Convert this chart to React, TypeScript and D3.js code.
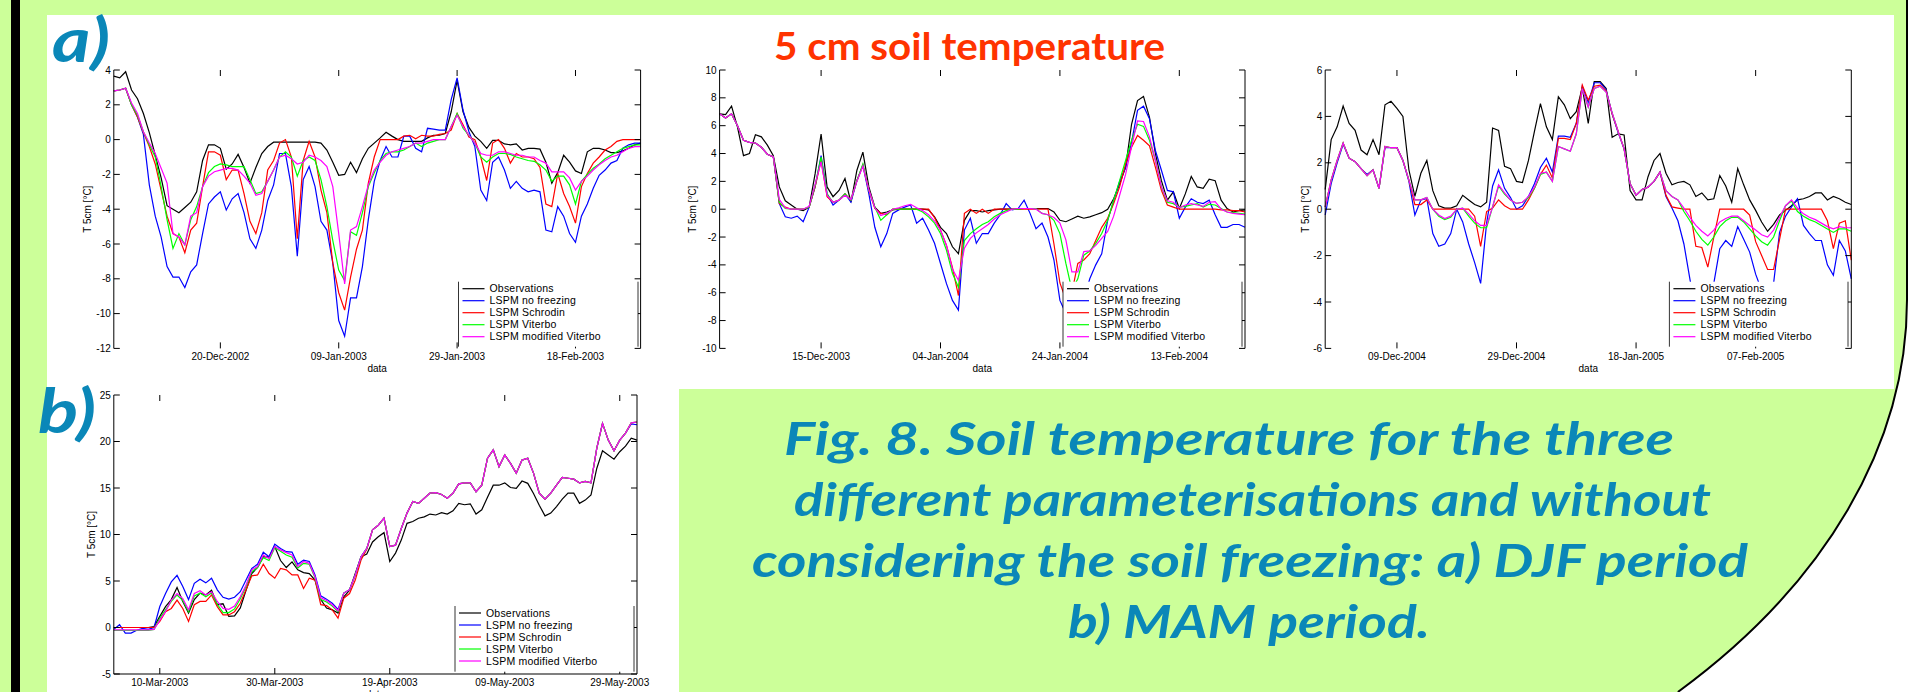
import React from "react";
import * as d3 from "d3";

const W = 1921;
const H = 692;

const seriesNames = [
  "Observations",
  "LSPM no freezing",
  "LSPM Schrodin",
  "LSPM Viterbo",
  "LSPM modified Viterbo",
];
const seriesColors = ["#000000", "#0000ff", "#ff0000", "#00ff00", "#ff00ff"];

// a) first winter, daily values from 2 Dec 2002
const a1Start = new Date(2002, 11, 2);
const a1End = new Date(2003, 2, 1);
const a1DateTicks = [new Date(2002, 11, 20), new Date(2003, 0, 9), new Date(2003, 0, 29), new Date(2003, 1, 18)];
const a1ValueTicks = [4, 2, 0, -2, -4, -6, -8, -10, -12];
const a1Obs = [
  3.65, 3.55, 3.9, 2.85, 2.35, 1.5, 0.4, -0.9, -2.2, -3.8,
  -4.0, -4.2, -3.9, -3.6, -3.0, -1.2, -0.3, -0.3, -0.5, -1.7,
  -1.4, -0.85, -1.6, -2.5, -1.6, -0.8, -0.4, -0.15, -0.15, -0.15,
  -0.15, -0.15, -0.15, -0.15, -0.15, -0.2, -0.6, -1.3, -2.05, -2.0,
  -1.3, -1.9, -1.1, -0.5, -0.2, 0.1, 0.42, 0.2, 0.0, -0.1,
  -0.1, -0.1, -0.1, 0.1, 0.25, 0.25, 0.35, 1.6, 3.4, 1.6,
  0.7, 0.2, -0.1, -0.5, -0.05, -0.05, -0.25, -0.3, -0.25, -0.6,
  -0.5, -0.5, -0.55, -1.3, -2.5, -1.9, -0.9, -1.3, -1.8, -1.95,
  -0.7, -0.5, -0.5, -0.6, -0.75, -0.75, -0.65, -0.5, -0.3, -0.2,
];
const a1NoFreeze = [
  2.8, 2.85, 2.95, 2.0, 1.3, 0.3, -2.6, -4.4, -5.6, -7.3,
  -7.9, -7.9, -8.5, -7.6, -7.2, -5.4, -3.7, -3.3, -3.0, -4.05,
  -3.4, -3.1, -4.2, -5.7, -6.25, -5.2, -3.5, -2.6, -0.8, -0.8,
  -2.7, -6.7, -2.3, -1.55, -2.7, -4.7, -5.2, -7.1, -10.4, -11.3,
  -9.1, -9.1, -7.3, -4.6, -2.4, -1.2, -0.4, -1.0, -1.0, 0.2,
  0.2, -0.5, -0.7, 0.65, 0.6, 0.55, 0.55, 2.3, 3.55, 1.7,
  0.45, -0.4, -2.9, -3.5, -1.3, -1.0, -1.75, -2.8, -2.4, -2.8,
  -3.0, -2.9, -3.0, -5.2, -5.3, -3.85, -4.4, -5.4, -5.9, -4.4,
  -3.7, -2.8, -2.05, -1.75, -1.35, -1.2, -0.5, -0.3, -0.2, -0.2,
];
const a1Schrodin = [
  2.8, 2.85, 2.95, 2.0, 1.3, 0.4, -0.4, -1.4, -2.9, -4.4,
  -5.4, -5.6, -6.5, -5.2, -4.8, -2.7, -0.7, -0.7, -0.9, -2.3,
  -1.75, -1.75, -3.1, -4.7, -5.4, -4.2, -1.75, -1.2, -0.2, 0.0,
  -1.0, -5.7, -1.2, -0.1, -1.0, -2.9, -4.2, -7.1, -8.8, -9.8,
  -7.9, -6.3, -5.2, -2.5, -1.0, 0.0, 0.0, 0.0, 0.0, 0.2,
  0.25, 0.05, 0.25, 0.2, 0.2, 0.3, 0.35, 0.55, 1.5, 0.85,
  0.15, 0.0, -1.0, -2.35, -0.2, 0.0, -0.5, -1.35, -0.8, -1.0,
  -1.0, -1.1, -1.6, -3.7, -3.85, -1.95, -3.1, -3.85, -4.8, -2.7,
  -1.95, -1.35, -1.0, -0.6, -0.4, -0.1, 0.0, 0.0, 0.0, 0.0,
];
const a1Viterbo = [
  2.8, 2.85, 2.95, 2.0, 1.4, 0.45, -0.3, -1.0, -2.7, -4.6,
  -6.25, -5.4, -6.05, -4.6, -3.85, -2.7, -1.9, -1.55, -1.4, -1.45,
  -1.55, -1.55, -1.55, -2.3, -3.1, -3.0, -2.4, -1.75, -1.0, -0.7,
  -1.0, -2.1, -1.2, -1.0, -1.2, -2.3, -3.85, -5.8, -7.5, -8.1,
  -5.3, -5.5, -4.2, -2.7, -1.9, -1.2, -0.8, -0.7, -0.7, -0.6,
  -0.4, -0.2, -0.4, -0.2, -0.1, 0.0, 0.0, 0.75, 1.5, 0.65,
  0.25, -0.2, -1.0, -1.3, -1.0, -0.8, -0.8, -0.85, -1.0, -1.1,
  -1.2, -1.25, -1.45, -1.75, -2.4, -2.1, -2.1, -2.6, -3.7, -2.4,
  -2.0, -1.65, -1.4, -1.1, -0.9, -0.7, -0.5, -0.4, -0.3, -0.3,
];
const a1ModViterbo = [
  2.8, 2.85, 2.95, 2.1, 1.5, 0.45, -0.2, -0.8, -1.65, -2.5,
  -5.4, -5.6, -6.05, -4.4, -4.2, -2.7, -2.1, -1.85, -1.75, -1.65,
  -1.65, -1.75, -2.1, -2.5, -3.2, -3.1, -2.4, -1.75, -1.0, -0.9,
  -1.1, -1.4, -1.3, -0.9, -1.0, -1.2, -1.55, -2.7, -5.4, -8.3,
  -5.2, -5.0, -3.85, -2.6, -1.75, -1.3, -0.9, -0.7, -0.6, -0.5,
  -0.4, -0.2, -0.2, -0.1, 0.0, 0.0, 0.0, 0.75, 1.4, 0.75,
  0.25, -0.2, -0.8, -0.9, -0.9, -0.7, -0.7, -0.8, -0.9, -0.9,
  -1.0, -1.0, -1.2, -1.35, -1.85, -1.85, -1.85, -2.2, -2.9, -2.4,
  -2.1, -1.75, -1.45, -1.2, -1.0, -0.9, -0.7, -0.5, -0.4, -0.4,
];

// a) second winter, from 28 Nov 2003
const a2Start = new Date(2003, 10, 28);
const a2End = new Date(2004, 1, 24);
const a2DateTicks = [new Date(2003, 11, 15), new Date(2004, 0, 4), new Date(2004, 0, 24), new Date(2004, 1, 13)];
const a2ValueTicks = [10, 8, 6, 4, 2, 0, -2, -4, -6, -8, -10];
const a2Obs = [
  6.85, 6.8, 7.4, 5.9, 3.85, 4.0, 5.35, 5.2, 4.6, 3.85,
  1.6, 0.6, 0.3, 0.0, -0.1, 0.15, 2.55, 5.4, 1.6, 0.9,
  1.35, 2.2, 0.5, 2.8, 4.1, 1.6, 0.15, -0.3, -0.2, -0.05,
  0.0, 0.0, 0.0, 0.0, 0.0, -0.05, -0.55, -1.3, -1.75, -2.7,
  -3.2, -0.8, -0.1, -0.1, -0.2, -0.1, -0.05, 0.0, 0.0, 0.0,
  0.0, 0.05, 0.05, 0.05, 0.05, 0.05, -0.2, -0.8, -0.9, -0.7,
  -0.5, -0.65, -0.55, -0.4, -0.25, 0.0, 0.75, 1.8, 3.0, 6.1,
  7.8, 8.1, 6.6, 4.0, 2.05, 0.65, 1.25, 0.05, 1.1, 2.35,
  1.6, 1.5, 2.15, 2.05, 0.65, 0.05, -0.2, -0.1, -0.05,
];
const a2NoFreeze = [
  6.85, 6.55, 6.85, 6.0, 4.95, 4.8, 4.75, 4.45, 3.95, 3.75,
  0.4, -0.55, -0.65, -0.5, -0.9, 0.15, 1.6, 3.85, 1.1, 0.3,
  0.65, 1.1, 0.5, 2.05, 3.15, 1.1, -1.3, -2.7, -1.75, -0.3,
  -0.05, 0.15, 0.3, -1.0, -0.65, -1.5, -2.45, -3.9, -5.35, -6.55,
  -7.25, -1.5, -0.65, -2.45, -1.75, -1.75, -1.0, -0.4, 0.4, -0.05,
  0.05, 0.65, -0.3, -1.4, -1.0, -2.0, -3.65, -6.55, -7.5, -8.0,
  -7.5, -6.5, -5.0, -4.0, -3.2, -0.8, 0.6, 2.0, 3.0, 4.8,
  7.1, 7.4, 6.5, 4.2, 2.8, 1.35, 1.25, -0.65, 0.15, 0.75,
  0.5, 0.4, 0.65, -0.4, -1.3, -1.3, -1.1, -1.1, -1.3,
];
const a2Schrodin = [
  6.85, 6.55, 6.85, 6.0, 4.95, 4.8, 4.75, 4.45, 3.95, 3.75,
  0.4, 0.15, 0.0, 0.0, 0.0, 0.15, 1.6, 3.5, 0.9, 0.5,
  0.65, 1.1, 0.65, 2.05, 3.15, 1.35, 0.05, -0.3, -0.4, 0.0,
  0.0, 0.0, 0.0, 0.0, 0.0, 0.0, -0.6, -1.5, -2.6, -4.2,
  -6.2, -0.3, 0.0, -0.3, 0.0, -0.3, 0.0, 0.0, 0.0, 0.0,
  0.0, 0.0, 0.0, 0.0, 0.0, 0.0, -2.5, -5.3, -6.5, -6.0,
  -3.9, -3.65, -3.2, -2.25, -1.3, -0.65, 0.4, 1.6, 3.25, 4.45,
  5.3, 4.95, 4.55, 3.0, 1.35, 0.3, 0.15, 0.0, 0.0, 0.0,
  0.0, 0.0, 0.0, 0.0, -0.05, -0.05, -0.1, -0.1, -0.2,
];
const a2Viterbo = [
  6.85, 6.55, 6.85, 6.0, 4.95, 4.8, 4.75, 4.45, 3.95, 3.75,
  0.5, 0.05, 0.0, 0.0, 0.0, 0.15, 1.7, 3.75, 1.1, 0.5,
  0.65, 1.1, 0.65, 2.05, 3.25, 1.35, 0.15, -0.8, -0.4, 0.0,
  0.0, 0.0, 0.0, 0.0, -0.2, -0.55, -1.0, -1.75, -2.95, -4.6,
  -5.6, -2.25, -1.75, -1.4, -1.1, -0.9, -0.55, -0.3, -0.1, 0.0,
  0.0, 0.05, 0.05, 0.05, -0.3, -0.4, -0.8, -1.75, -3.9, -5.8,
  -5.0, -3.3, -3.0, -2.45, -1.75, -0.8, 0.65, 2.05, 3.5, 4.95,
  6.1, 5.95, 4.95, 3.5, 1.6, 0.5, 0.4, 0.15, 0.2, 0.3,
  0.4, 0.15, 0.35, 0.3, 0.05, -0.2, -0.25, -0.3, -0.35,
];
const a2ModViterbo = [
  6.85, 6.55, 6.85, 6.0, 4.95, 4.8, 4.75, 4.45, 3.95, 3.75,
  0.7, 0.1, 0.0, 0.0, 0.0, 0.2, 1.8, 3.4, 1.0, 0.5,
  0.65, 1.0, 0.7, 2.0, 3.1, 1.4, 0.1, -0.45, -0.3, 0.0,
  0.1, 0.25, 0.35, 0.1, -0.1, -0.4, -0.85, -1.5, -2.6, -4.3,
  -5.1, -2.8, -2.1, -1.7, -1.4, -1.1, -0.7, -0.4, -0.2, 0.0,
  0.05, 0.05, 0.05, 0.0, -0.3, -0.4, -0.6, -1.0, -2.2, -4.5,
  -4.5, -3.05, -3.0, -2.6, -2.1, -1.6, -0.5, 1.0, 2.5, 4.5,
  6.35, 6.3, 5.2, 3.5, 1.6, 0.6, 0.5, 0.1, 0.3, 0.4,
  0.3, 0.2, 0.5, 0.55, 0.0, -0.2, -0.3, -0.35, -0.4,
];

// a) third winter, from 27 Nov 2004
const a3Start = new Date(2004, 10, 27);
const a3End = new Date(2005, 1, 23);
const a3DateTicks = [new Date(2004, 11, 9), new Date(2004, 11, 29), new Date(2005, 0, 18), new Date(2005, 1, 7)];
const a3ValueTicks = [6, 4, 2, 0, -2, -4, -6];
const a3Obs = [
  0.85, 3.0, 3.55, 4.45, 3.7, 3.4, 2.55, 2.35, 3.0, 2.35,
  4.5, 4.65, 4.35, 4.0, 1.7, 0.55, 1.55, 2.1, 0.8, 0.15,
  0.05, 0.05, 0.15, 0.6, 0.4, 0.2, 0.1, 0.3, 3.5, 3.4,
  1.85, 1.75, 1.2, 1.15, 2.1, 3.35, 4.55, 3.55, 3.0, 4.85,
  4.5, 3.9, 4.2, 5.25, 3.7, 5.5, 5.5, 5.2, 3.1, 3.25,
  3.2, 0.8, 0.4, 0.4, 1.4, 2.1, 2.4, 1.55, 1.05, 1.15,
  1.2, 1.05, 0.55, 0.7, 0.4, 0.45, 1.45, 1.0, 0.3, 1.75,
  1.05, 0.4, -0.05, -0.55, -0.95, -0.65, -0.25, -0.05, 0.15, 0.4,
  0.45, 0.55, 0.7, 0.7, 0.4, 0.55, 0.45, 0.3, 0.2,
];
const a3NoFreeze = [
  -0.25, 1.1, 2.0, 2.8, 2.2, 2.05, 1.75, 1.5, 1.7, 0.9,
  2.65, 2.65, 2.65, 2.1, 1.2, -0.25, 0.4, 0.45, -1.05, -1.6,
  -1.5, -1.05, 0.0, -0.55, -1.5, -2.3, -3.2, -0.6, 1.0, 1.7,
  0.9, 0.5, 0.0, 0.15, 0.55, 1.1, 1.8, 2.2, 1.6, 3.15,
  3.15, 3.1, 3.7, 5.3, 4.6, 5.45, 5.45, 5.15, 4.1, 3.3,
  2.6, 1.1, 0.6, 0.85, 0.95, 1.2, 1.6, 0.55, 0.05, -0.5,
  -1.5, -3.0, -4.5, -5.5, -4.5, -3.2, -1.7, -1.35, -1.6, -0.75,
  -1.3, -1.85, -2.8, -3.5, -3.8, -3.2, -1.0, -0.3, 0.1, 0.45,
  -0.7, -1.05, -1.35, -1.35, -2.4, -2.85, -1.35, -1.8, -3.0,
];
const a3Schrodin = [
  0.1, 1.25, 2.1, 2.85, 2.2, 2.05, 1.75, 1.45, 1.7, 0.9,
  2.7, 2.65, 2.65, 2.1, 1.25, 0.2, 0.2, 0.4, 0.0, 0.0,
  0.0, 0.0, 0.0, 0.0, 0.0, -0.3, -1.6, -0.1, 0.05, 0.4,
  0.15, 0.0, 0.0, 0.0, 0.4, 0.9, 1.5, 1.9, 1.35, 3.05,
  3.05, 3.0, 3.7, 5.35, 4.7, 5.3, 5.35, 5.1, 4.1, 3.35,
  2.6, 1.1, 0.6, 0.85, 0.95, 1.2, 1.6, 0.6, 0.1, 0.05,
  0.0, 0.0, -1.6, -1.65, -2.5, -1.2, 0.0, 0.0, 0.0, 0.0,
  0.0, -0.25, -1.4, -2.0, -2.6, -2.6, -1.3, 0.0, 0.0, 0.0,
  0.0, 0.0, 0.0, 0.0, -0.5, -1.7, -0.6, -0.5, -2.2,
];
const a3Viterbo = [
  0.1, 1.25, 2.1, 2.85, 2.2, 2.05, 1.75, 1.45, 1.7, 0.9,
  2.7, 2.65, 2.65, 2.1, 1.25, 0.4, 0.4, 0.5, 0.0, -0.3,
  -0.45, -0.35, 0.0, 0.05, -0.3, -0.6, -0.8, -0.8, 0.1, 1.0,
  0.65, 0.4, 0.25, 0.3, 0.5, 0.9, 1.5, 1.6, 1.2, 2.7,
  2.6, 2.5, 3.25, 5.2, 4.4, 5.2, 5.3, 5.05, 4.15, 3.35,
  2.6, 1.1, 0.6, 0.85, 0.95, 1.2, 1.6, 0.8, 0.55, 0.4,
  -0.1, -0.5, -0.95, -1.3, -1.55, -1.2, -0.75, -0.5, -0.35, -0.35,
  -0.55, -0.85, -1.15, -1.4, -1.55, -1.2, -0.5, 0.15, 0.35, -0.1,
  -0.3, -0.45, -0.55, -0.7, -0.85, -1.0, -0.85, -0.85, -0.95,
];
const a3ModViterbo = [
  0.1, 1.25, 2.1, 2.85, 2.2, 2.05, 1.75, 1.45, 1.7, 0.9,
  2.7, 2.65, 2.65, 2.1, 1.25, 0.4, 0.4, 0.5, 0.0, -0.25,
  -0.4, -0.3, 0.0, 0.05, -0.2, -0.5, -0.7, -0.7, 0.1, 1.05,
  0.7, 0.4, 0.25, 0.3, 0.55, 0.95, 1.55, 1.6, 1.2, 2.7,
  2.6, 2.5, 3.25, 5.2, 4.4, 5.2, 5.3, 5.05, 4.15, 3.35,
  2.6, 1.1, 0.6, 0.85, 0.95, 1.2, 1.6, 0.8, 0.55, 0.4,
  0.05, -0.35, -0.7, -0.95, -1.15, -0.9, -0.55, -0.4, -0.3, -0.3,
  -0.5, -0.7, -0.9, -1.1, -1.2, -0.9, -0.35, 0.15, 0.4, 0.05,
  -0.2, -0.35, -0.45, -0.6, -0.75, -0.85, -0.75, -0.8, -0.8,
];

// b) spring 2003, from 2 Mar 2003
const bStart = new Date(2003, 2, 2);
const bEnd = new Date(2003, 5, 1);
const bDateTicks = [new Date(2003, 2, 10), new Date(2003, 2, 30), new Date(2003, 3, 19), new Date(2003, 4, 9), new Date(2003, 4, 29)];
const bValueTicks = [25, 20, 15, 10, 5, 0, -5];
const bObs = [
  0, 0, 0, 0, 0, 0, 0, 0.1, 1.2, 2.25,
  3.0, 4.3, 2.8, 1.55, 3.0, 3.7, 3.5, 4.0, 2.45, 2.55,
  1.2, 1.25, 2.1, 4.0, 5.8, 6.45, 7.6, 7.6, 8.7, 7.2,
  6.45, 7.05, 6.2, 5.9, 5.8, 5.1, 3.0, 2.1, 1.9, 1.55,
  3.3, 4.0, 5.8, 7.6, 7.9, 9.2, 9.75, 10.2, 7.1, 8.0,
  9.4, 11.2, 11.4, 11.75, 11.9, 12.2, 12.1, 12.35, 12.2, 12.55,
  13.35, 13.2, 13.3, 12.2, 12.65, 14.0, 15.3, 15.3, 15.55, 15.05,
  14.95, 15.75, 15.5, 14.4, 13.15, 12.0, 12.3, 13.0, 13.8, 14.45,
  14.45, 13.35, 13.7, 14.25, 17.1, 19.0, 18.55, 18.1, 18.9, 19.5,
  20.35, 20.15,
];
const bNoFreeze = [
  -0.2, 0.3, -0.6, -0.6, -0.3, -0.1, -0.2, 0.0, 2.25, 3.65,
  4.9, 5.6, 4.4, 3.0, 4.75, 5.2, 4.8, 5.3, 4.05, 3.25,
  3.05, 3.25, 3.85, 5.1, 6.35, 6.8, 8.1, 7.6, 8.95, 8.5,
  8.15, 8.1, 6.8, 7.25, 7.1, 5.65, 3.4, 3.05, 2.6, 1.95,
  3.7, 4.05, 5.65, 7.6, 8.5, 10.5, 11.0, 11.75, 8.7, 8.85,
  10.65, 12.3, 13.55, 13.35, 13.9, 14.45, 14.5, 14.3, 13.9, 14.45,
  15.45, 15.55, 15.55, 14.6, 15.3, 18.2, 19.1, 17.3, 18.55, 17.65,
  16.6, 18.0, 18.2, 16.6, 14.45, 13.8, 14.45, 15.3, 16.15, 16.05,
  15.95, 15.55, 15.7, 15.55, 19.25, 21.95, 20.15, 19.0, 20.15, 20.9,
  21.9, 21.8,
];
const bSchrodin = [
  0, 0, 0, 0, 0, 0, 0, 0, 0.65, 1.7,
  2.05, 2.95, 2.05, 0.65, 2.45, 2.8, 2.8, 3.5, 2.25, 1.35,
  1.35, 1.7, 2.6, 4.05, 5.55, 5.65, 6.8, 5.8, 5.3, 6.35,
  6.2, 5.65, 5.65, 4.2, 5.3, 5.1, 2.45, 2.35, 1.9, 1.0,
  3.15, 3.65, 5.1, 7.25, 8.4, 10.5, 11.0, 11.75, 8.7, 8.85,
  10.65, 12.3, 13.55, 13.35, 13.9, 14.45, 14.5, 14.3, 13.9, 14.45,
  15.45, 15.55, 15.55, 14.6, 15.3, 18.2, 19.1, 17.3, 18.55, 17.65,
  16.6, 18.0, 18.2, 16.6, 14.45, 13.8, 14.45, 15.3, 16.15, 16.05,
  15.95, 15.55, 15.7, 15.55, 19.25, 21.95, 20.15, 19.0, 20.15, 20.9,
  22.0, 22.1,
];
const bViterbo = [
  -0.3, -0.3, -0.3, -0.3, -0.3, -0.3, -0.3, -0.2, 1.0, 1.9,
  2.8, 3.5, 2.9, 1.7, 3.4, 3.7, 3.3, 3.7, 2.5, 1.6,
  1.6, 2.0, 3.1, 4.4, 6.0, 6.45, 7.5, 7.2, 8.6, 8.2,
  7.8, 7.55, 6.4, 6.9, 6.8, 5.35, 3.0, 2.75, 2.3, 1.7,
  3.7, 4.05, 5.65, 7.6, 8.5, 10.5, 11.0, 11.75, 8.7, 8.85,
  10.65, 12.3, 13.55, 13.35, 13.9, 14.45, 14.5, 14.3, 13.9, 14.45,
  15.45, 15.55, 15.55, 14.6, 15.3, 18.2, 19.1, 17.3, 18.55, 17.65,
  16.6, 18.0, 18.2, 16.6, 14.45, 13.8, 14.45, 15.3, 16.15, 16.05,
  15.95, 15.55, 15.7, 15.55, 19.25, 21.95, 20.15, 19.0, 20.15, 20.9,
  22.0, 22.1,
];
const bModViterbo = [
  -0.25, -0.25, -0.25, -0.25, -0.25, -0.25, -0.25, -0.2, 0.8, 1.7,
  2.95, 3.65, 3.1, 1.9, 3.65, 3.95, 3.5, 3.85, 2.8, 2.05,
  1.95, 2.3, 3.3, 4.55, 6.2, 6.55, 7.8, 7.4, 8.7, 8.35,
  8.05, 7.8, 6.55, 7.1, 6.9, 5.45, 3.2, 2.9, 2.45, 1.8,
  3.7, 4.05, 5.65, 7.6, 8.5, 10.5, 11.0, 11.75, 8.7, 8.85,
  10.65, 12.3, 13.55, 13.35, 13.9, 14.45, 14.5, 14.3, 13.9, 14.45,
  15.45, 15.55, 15.55, 14.6, 15.3, 18.2, 19.1, 17.3, 18.55, 17.65,
  16.6, 18.0, 18.2, 16.6, 14.45, 13.8, 14.45, 15.3, 16.15, 16.05,
  15.95, 15.55, 15.7, 15.55, 19.25, 21.95, 20.15, 19.0, 20.15, 20.9,
  22.0, 22.1,
];

const chartTitle = "5 cm soil temperature";
const captionLines = [
  "Fig. 8. Soil temperature for the three",
  "different parameterisations and without",
  "considering the soil freezing: a) DJF period",
  "b) MAM period.",
];

const axisFont = '"Liberation Sans", Arial, Helvetica, sans-serif';
const posterFont = '"Comic Sans MS", Lato, "Open Sans", sans-serif';
const posterBlue = "#0a87b8";
const fmtDate = d3.timeFormat("%d-%b-%Y");

const Panel = ({ box, start, end, yDomain, valueTicks, dateTicks, series, legend, ylabelX, xlabelY, bottomLine }) => {
  const x = d3.scaleTime().domain([start, end]).range([box.left, box.right]);
  const y = d3.scaleLinear().domain(yDomain).range([box.bottom, box.top]);
  const line = d3
    .line<number>()
    .x((_, i) => x(d3.timeDay.offset(start, i)))
    .y((v) => y(v));
  const tick = 6;

  return (
    <g fontFamily={axisFont} fontSize={10} fill="#000">
      {/* curves, observations first, modified Viterbo on top */}
      {series.map((s, i) => (
        <path key={i} d={line(s)} fill="none" stroke={seriesColors[i]} strokeWidth={1.2} />
      ))}

      {/* box sides */}
      <line x1={box.left} x2={box.left} y1={box.top} y2={box.bottom} stroke="#000" strokeWidth={1} />
      <line x1={box.right} x2={box.right} y1={box.top} y2={box.bottom} stroke="#000" strokeWidth={1} />
      {bottomLine && (
        <line x1={box.left} x2={box.right} y1={box.bottom} y2={box.bottom} stroke="#000" strokeWidth={1.2} />
      )}

      {/* y axis */}
      {valueTicks.map((v) => (
        <g key={"y" + v}>
          <line x1={box.left} x2={box.left + tick} y1={y(v)} y2={y(v)} stroke="#000" />
          <line x1={box.right - tick} x2={box.right} y1={y(v)} y2={y(v)} stroke="#000" />
          <text x={box.left - 3} y={y(v)} dy="0.35em" textAnchor="end">
            {v}
          </text>
        </g>
      ))}

      {/* date axis */}
      {dateTicks.map((d) => (
        <g key={"x" + d.getTime()}>
          <line x1={x(d)} x2={x(d)} y1={box.top} y2={box.top + tick} stroke="#000" />
          <line x1={x(d)} x2={x(d)} y1={box.bottom - tick} y2={box.bottom} stroke="#000" />
          <text x={x(d)} y={box.bottom + 11.5} textAnchor="middle">
            {fmtDate(d)}
          </text>
        </g>
      ))}

      <text x={(box.left + box.right) / 2} y={xlabelY} textAnchor="middle">
        data
      </text>
      <text
        transform={`translate(${ylabelX},${(box.top + box.bottom) / 2}) rotate(-90)`}
        textAnchor="middle"
      >
        T  5cm [°C]
      </text>

      {/* legend */}
      <rect
        x={legend.left}
        y={legend.top}
        width={legend.right - legend.left}
        height={legend.bottom - legend.top}
        fill="#fff"
      />
      <line x1={legend.left} x2={legend.left} y1={legend.top} y2={legend.bottom} stroke="#000" strokeWidth={0.8} />
      <line x1={legend.right} x2={legend.right} y1={legend.top} y2={legend.bottom} stroke="#000" strokeWidth={0.8} />
      {seriesNames.map((name, i) => {
        const ly = legend.top + 7 + i * 12;
        return (
          <g key={name}>
            <line x1={legend.left + 4} x2={legend.left + 26} y1={ly} y2={ly} stroke={seriesColors[i]} strokeWidth={1.2} />
            <text x={legend.left + 31} y={ly} dy="0.35em" fontSize={10.5} letterSpacing={0.2}>
              {name}
            </text>
          </g>
        );
      })}
    </g>
  );
};

export default function App() {
  // right edge of the poster box: straight, then an elliptical sweep
  const cx = 1000, cy = 300, rx = 907, ry = 590;
  const edgeX = cx + rx;
  const bottomX = cx + rx * Math.sqrt(1 - ((H - cy) / ry) ** 2);
  const edge = `M${edgeX},0 L${edgeX},${cy} A${rx},${ry} 0 0 1 ${bottomX},${H}`;
  const outside = `M${edgeX},0 L${W},0 L${W},${H} L${bottomX},${H} A${rx},${ry} 0 0 0 ${edgeX},${cy} Z`;

  const aTop = 70;
  const aBottom = 348.4;
  const aLegend = { top: 281.7, bottom: 346.7 };

  return (
    <svg width={W} height={H} style={{ position: "absolute", left: 0, top: 0, display: "block" }}>
      <rect x={0} y={0} width={W} height={H} fill="#ccff99" />
      <path d={outside} fill="#fff" />
      <path d={edge} fill="none" stroke="#000" strokeWidth={2} />
      <rect x={11} y={0} width={9} height={H} fill="#000" />

      {/* white paper behind the plots */}
      <path d={`M47,15 L1894,15 L1894,389 L679,389 L679,${H} L47,${H} Z`} fill="#fff" />

      <text
        x={774}
        y={60}
        fontFamily={posterFont}
        fontWeight="bold"
        fontSize={38}
        fill="#ff3300"
        textLength={391}
        lengthAdjust="spacingAndGlyphs"
      >
        {chartTitle}
      </text>

      <Panel
        box={{ left: 113.8, right: 640.6, top: aTop, bottom: aBottom }}
        start={a1Start}
        end={a1End}
        yDomain={[-12, 4]}
        valueTicks={a1ValueTicks}
        dateTicks={a1DateTicks}
        series={[a1Obs, a1NoFreeze, a1Schrodin, a1Viterbo, a1ModViterbo]}
        legend={{ left: 458.5, right: 638, ...aLegend }}
        ylabelX={90.5}
        xlabelY={372}
        bottomLine={false}
      />
      <Panel
        box={{ left: 719.6, right: 1245, top: aTop, bottom: aBottom }}
        start={a2Start}
        end={a2End}
        yDomain={[-10, 10]}
        valueTicks={a2ValueTicks}
        dateTicks={a2DateTicks}
        series={[a2Obs, a2NoFreeze, a2Schrodin, a2Viterbo, a2ModViterbo]}
        legend={{ left: 1063, right: 1242, ...aLegend }}
        ylabelX={695.5}
        xlabelY={372}
        bottomLine={false}
      />
      <Panel
        box={{ left: 1325.2, right: 1851.3, top: aTop, bottom: aBottom }}
        start={a3Start}
        end={a3End}
        yDomain={[-6, 6]}
        valueTicks={a3ValueTicks}
        dateTicks={a3DateTicks}
        series={[a3Obs, a3NoFreeze, a3Schrodin, a3Viterbo, a3ModViterbo]}
        legend={{ left: 1669.4, right: 1848, ...aLegend }}
        ylabelX={1308.5}
        xlabelY={372}
        bottomLine={false}
      />
      <Panel
        box={{ left: 113.8, right: 637, top: 395, bottom: 674 }}
        start={bStart}
        end={bEnd}
        yDomain={[-5, 25]}
        valueTicks={bValueTicks}
        dateTicks={bDateTicks}
        series={[bObs, bNoFreeze, bSchrodin, bViterbo, bModViterbo]}
        legend={{ left: 455, right: 634, top: 606, bottom: 671.7 }}
        ylabelX={95}
        xlabelY={698}
        bottomLine={true}
      />

      {/* panel letters */}
      <text x={52} y={62} fontFamily={posterFont} fontWeight="bold" fontStyle="italic" fontSize={62} fill={posterBlue} textLength={58} lengthAdjust="spacingAndGlyphs">
        a)
      </text>
      <text x={38} y={433} fontFamily={posterFont} fontWeight="bold" fontStyle="italic" fontSize={62} fill={posterBlue} textLength={58} lengthAdjust="spacingAndGlyphs">
        b)
      </text>

      {/* caption */}
      {[
        { x: 784, y: 455, w: 890 },
        { x: 794, y: 516, w: 917 },
        { x: 752, y: 577, w: 996 },
        { x: 1068, y: 638, w: 362 },
      ].map((p, i) => (
        <text
          key={i}
          x={p.x}
          y={p.y}
          fontFamily={posterFont}
          fontWeight="bold"
          fontStyle="italic"
          fontSize={45}
          fill={posterBlue}
          textLength={p.w}
          lengthAdjust="spacingAndGlyphs"
        >
          {captionLines[i]}
        </text>
      ))}
    </svg>
  );
}
